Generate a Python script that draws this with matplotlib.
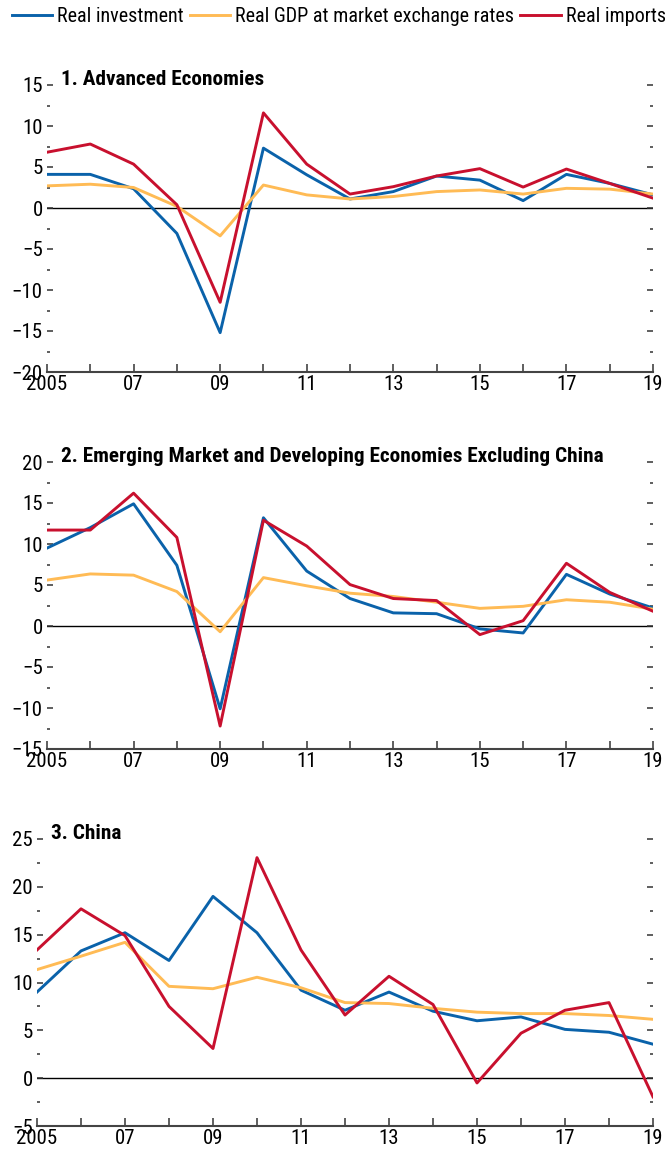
import matplotlib
matplotlib.use('Agg')
import matplotlib.pyplot as plt
from matplotlib.ticker import MultipleLocator

plt.rcParams['font.family'] = ['Roboto Condensed', 'Liberation Sans', 'DejaVu Sans']

years = list(range(2005, 2020))

# 1. Advanced Economies
adv_invest = [4.1, 4.1, 2.35, -3.1, -15.2, 7.3, 4.05, 1.1, 2.0, 3.9, 3.4, 0.9, 4.1, 3.0, 1.6]
adv_gdp = [2.7, 2.9, 2.5, 0.2, -3.4, 2.8, 1.6, 1.1, 1.4, 2.0, 2.2, 1.7, 2.4, 2.3, 1.7]
adv_imports = [6.8, 7.8, 5.35, 0.4, -11.5, 11.6, 5.35, 1.7, 2.6, 3.9, 4.8, 2.55, 4.75, 3.0, 1.2]

# 2. EMDEs excluding China
em_invest = [9.5, 12.0, 14.9, 7.4, -10.1, 13.2, 6.7, 3.35, 1.6, 1.5, -0.35, -0.85, 6.3, 3.9, 2.2]
em_gdp = [5.6, 6.35, 6.2, 4.2, -0.7, 5.9, 4.9, 4.0, 3.6, 2.9, 2.15, 2.4, 3.2, 2.9, 2.05]
em_imports = [11.7, 11.7, 16.2, 10.8, -12.2, 12.9, 9.75, 5.05, 3.35, 3.1, -1.05, 0.65, 7.65, 4.1, 1.8]

# 3. China
cn_invest = [9.0, 13.3, 15.2, 12.3, 19.0, 15.2, 9.2, 7.1, 9.0, 7.0, 6.0, 6.4, 5.1, 4.8, 3.55]
cn_gdp = [11.35, 12.75, 14.2, 9.6, 9.35, 10.55, 9.45, 7.9, 7.8, 7.3, 6.9, 6.75, 6.75, 6.55, 6.15]
cn_imports = [13.4, 17.7, 14.9, 7.5, 3.1, 23.05, 13.4, 6.6, 10.65, 7.7, -0.5, 4.7, 7.1, 7.9, -1.95]

blue = '#0A62AA'
yellow = '#FFBB55'
red = '#C8102E'

panels = [
    ('1. Advanced Economies', adv_invest, adv_gdp, adv_imports, (-20, 15), 47),
    ('2. Emerging Market and Developing Economies Excluding China', em_invest, em_gdp, em_imports, (-15, 20), 47),
    ('3. China', cn_invest, cn_gdp, cn_imports, (-5, 25), 37),
]
tops = [85, 462, 839]

W, H = 665, 1157
fig = plt.figure(figsize=(W / 100, H / 100), dpi=100)

for (title, inv, gdp, imp, ylim, left), top in zip(panels, tops):
    ax = fig.add_axes([left / W, 1 - (top + 287) / H, (653 - left) / W, 287 / H])
    ax.axhline(0, color='black', lw=1, zorder=1)
    ax.plot(years, inv, color=blue, lw=2.1, label='Real investment')
    ax.plot(years, gdp, color=yellow, lw=2.1, label='Real GDP at market exchange rates')
    ax.plot(years, imp, color=red, lw=2.1, label='Real imports')
    ax.set_xlim(2005, 2019)
    ax.set_ylim(*ylim)
    for s in ['left', 'right', 'top']:
        ax.spines[s].set_visible(False)
    ax.spines['bottom'].set_color('#444444')
    ax.spines['bottom'].set_linewidth(1.5)
    ax.set_xticks(years)
    ax.set_xticklabels([str(y) if y == 2005 else ('%02d' % (y % 100) if y % 2 == 1 else '') for y in years])
    ax.tick_params(axis='x', direction='in', length=6, width=1.2, color='#444444',
                   labelsize=15, pad=2)
    ax.yaxis.set_major_locator(MultipleLocator(5))
    ax.yaxis.set_minor_locator(MultipleLocator(2.5))
    ax.tick_params(axis='y', which='major', direction='in', length=4.5, width=1.1,
                   left=True, right=True, labelsize=15, pad=3, color='#333333')
    ax.tick_params(axis='y', which='minor', direction='in', length=2, width=1.1,
                   left=True, right=True, color='#333333')
    ax.annotate(title, xy=(0, 1), xycoords='axes fraction', xytext=(10, 0),
                textcoords='offset points', va='baseline', ha='left',
                fontsize=15.3, fontweight='bold')
    ax.patch.set_alpha(0)

handles, labels = ax.get_legend_handles_labels()
fig.legend(handles, labels, loc='upper left', bbox_to_anchor=(0.0, 1.004), ncol=3,
           frameon=False, fontsize=14.5, handlelength=2.0, handletextpad=0.25,
           columnspacing=0.3, borderaxespad=0.2)

fig.savefig('out.png', dpi=100)
